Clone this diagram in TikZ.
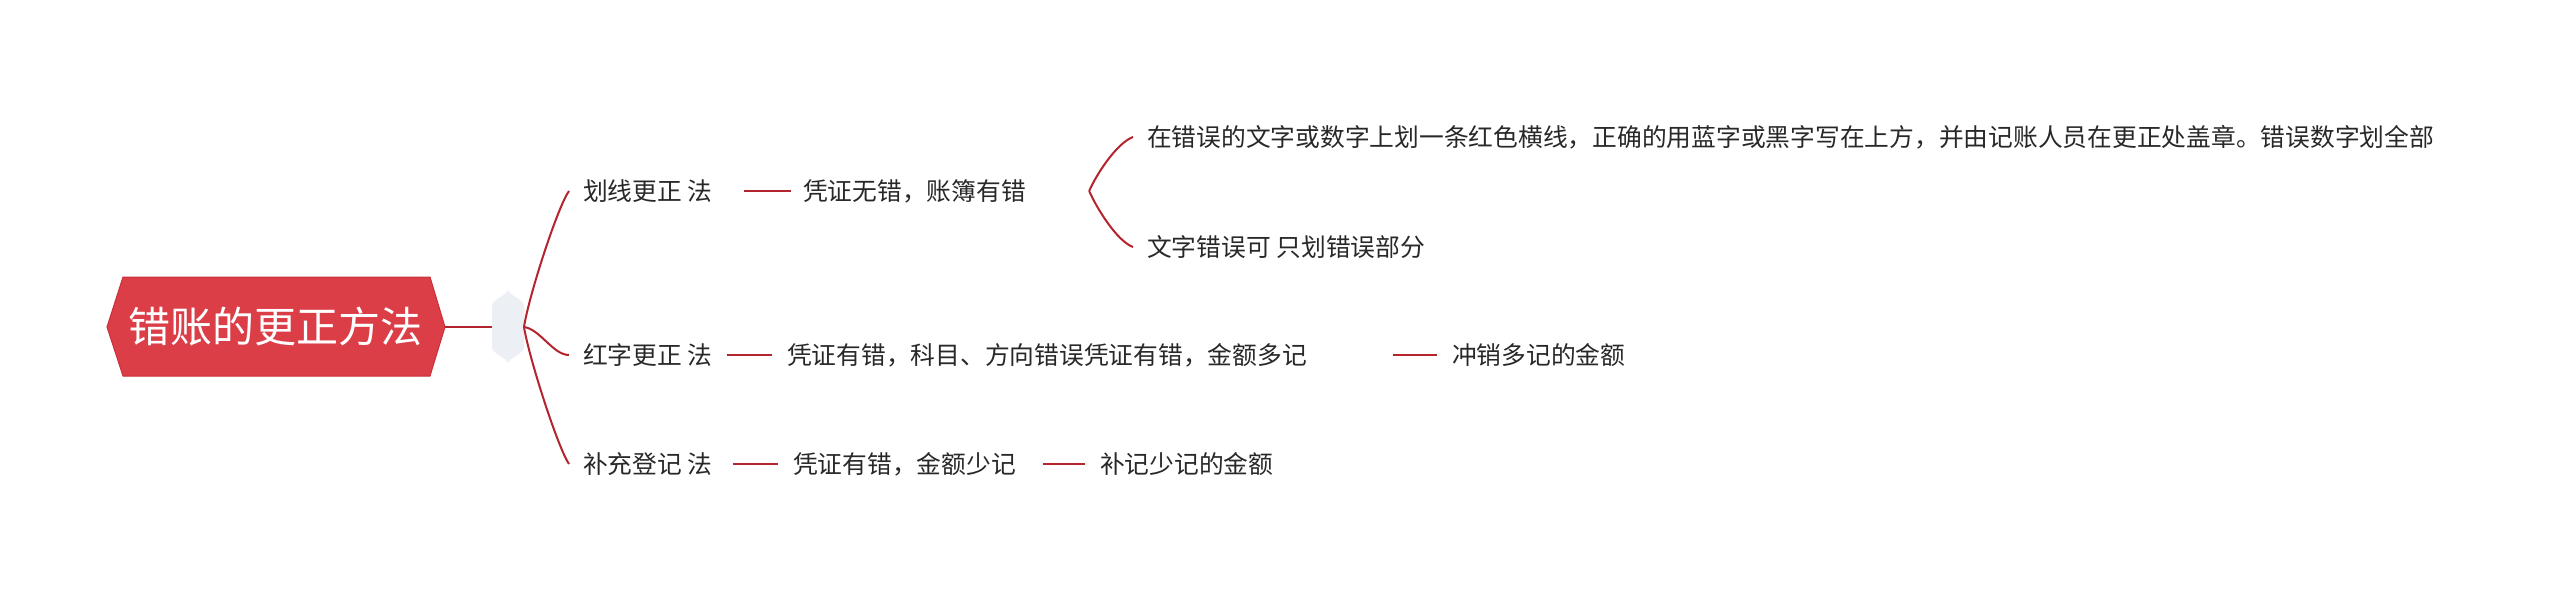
\documentclass[tikz,border=0pt]{standalone}
\usepackage{fontspec}
\newfontfamily\cjk{Noto Sans CJK SC}
\definecolor{linec}{RGB}{180,36,46}
\definecolor{rootfill}{RGB}{220,62,71}
\definecolor{rootdraw}{RGB}{200,48,58}
\definecolor{hubfill}{RGB}{236,239,243}
\definecolor{textc}{RGB}{40,40,40}
\begin{document}
\begin{tikzpicture}[x=1pt,y=-1pt,
  txt/.style={font=\cjk\fontsize{24.75pt}{30pt}\selectfont,text=textc,inner sep=0pt,anchor=west},
  roottxt/.style={font=\cjk\fontsize{42pt}{50pt}\selectfont,text=white,inner sep=0pt,anchor=center},
  conn/.style={draw=linec,line width=2pt}]
\useasboundingbox[fill=white] (0,0) rectangle (2560,599);

% root
\draw[fill=rootfill,draw=rootdraw,line width=1pt]
  (107,327) -- (123,277) -- (430,277) -- (445,327) -- (430,376) -- (123,376) -- cycle;
\node[roottxt] (root) at (275.5,327) {错账的更正方法};
\coordinate (rootE) at (445,327);

% hub
\fill[hubfill] (508,290) .. controls (511,297) and (524,299) .. (524,306) -- (524,347)
  .. controls (524,354) and (511,356) .. (508,363)
  .. controls (505,356) and (492,354) .. (492,347) -- (492,306)
  .. controls (492,299) and (505,297) .. (508,290) -- cycle;
\coordinate (hubW) at (492,327);
\coordinate (hubE) at (524,327);
\draw[conn] (rootE) -- (hubW);

% level 1
\node[txt] (l1) at (583,191) {划线更正 法};
\node[txt] (l2) at (583,355) {红字更正 法};
\node[txt] (l3) at (583,464) {补充登记 法};

% level 2
\node[txt] (m1) at (803,191) {凭证无错，账簿有错};
\node[txt] (m2) at (787,355) {凭证有错，科目、方向错误凭证有错，金额多记};
\node[txt] (m3) at (793,464) {凭证有错，金额少记};

% level 3
\node[txt] (c1) at (1147,137) {在错误的文字或数字上划一条红色横线，正确的用蓝字或黑字写在上方，并由记账人员在更正处盖章。错误数字划全部};
\node[txt] (c2) at (1147,247) {文字错误可 只划错误部分};
\node[txt] (e2) at (1452,355) {冲销多记的金额};
\node[txt] (e3) at (1100,464) {补记少记的金额};

% hub curves
\draw[conn] (hubE) .. controls +(5,-32) and +(-11,15) .. ([xshift=-14pt]l1.west);
\draw[conn] (hubE) .. controls +(16,2) and +(-16,0) .. ([xshift=-14pt]l2.west);
\draw[conn] (hubE) .. controls +(5,31) and +(-11,-16) .. ([xshift=-14pt]l3.west);

% straight links
\draw[conn] ([xshift=31pt]l1.east) -- ([xshift=-12pt]m1.west);
\draw[conn] ([xshift=14pt]l2.east) -- ([xshift=-15pt]m2.west);
\draw[conn] ([xshift=20pt]l3.east) -- ([xshift=-15pt]m3.west);
\draw[conn] ([xshift=86pt]m2.east) -- ([xshift=-15pt]e2.west);
\draw[conn] ([xshift=27pt]m3.east) -- ([xshift=-15pt]e3.west);

% brace
\coordinate (bt) at ([xshift=63pt]m1.east);
\draw[conn] (bt) .. controls +(8,-18) and +(-16,6) .. ([xshift=-14pt]c1.west);
\draw[conn] (bt) .. controls +(8,18) and +(-16,-6) .. ([xshift=-14pt]c2.west);
\end{tikzpicture}
\end{document}
